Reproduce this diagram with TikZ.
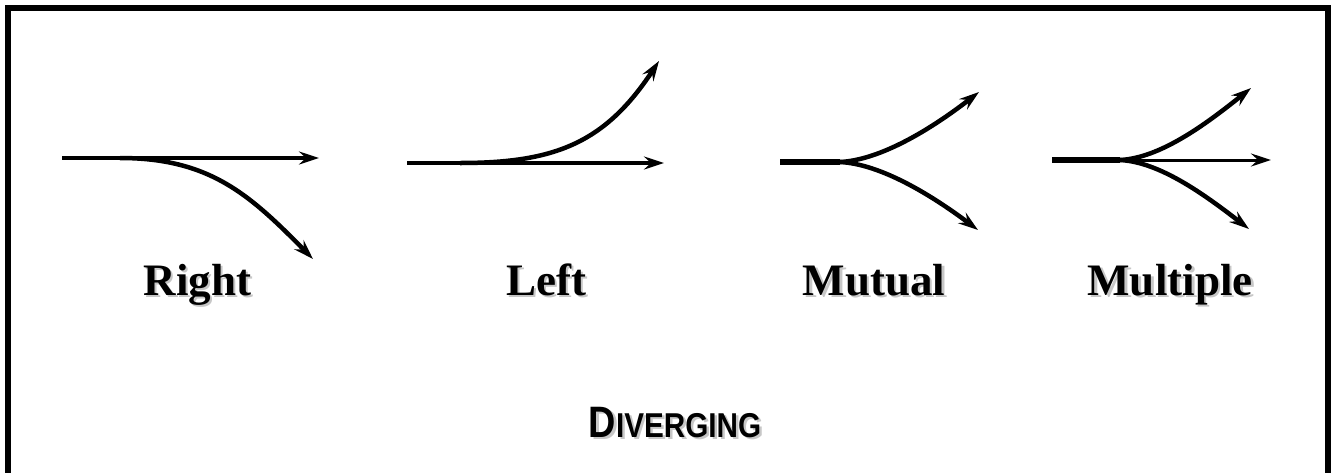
\documentclass[tikz,border=0pt]{standalone}
\usepackage{fontspec}
\setmainfont{Liberation Serif}
\newfontfamily\sansbf{Liberation Sans}[BoldFont={* Bold}]
\usetikzlibrary{arrows.meta}
\tikzset{
  flow/.style={line width=4.5pt,-{Stealth[length=20pt,width=13pt,inset=7pt]}},
  thinflow/.style={line width=3pt,-{Stealth[length=20pt,width=13pt,inset=7pt]}},
  stem/.style={line width=6.5pt},
  lbl/.style={anchor=base,inner sep=0pt,font=\fontsize{45}{50}\selectfont\bfseries},
  shadow/.style={text=black!22},
}
\newcommand{\divtext}{\scalebox{0.86}[1]{\sansbf\bfseries\fontsize{44}{50}\selectfont D\fontsize{34.5}{40}\selectfont IVERGING}}
\begin{document}
\begin{tikzpicture}[x=1pt,y=-1pt]
\useasboundingbox (0,0) rectangle (1336,472);
% frame
\draw[line width=6pt] (8,480) -- (8,8) -- (1328,8) -- (1328,480);

% Right
\coordinate (r0) at (62,158);
\coordinate (rj) at (120,158);
\coordinate (r1) at (319,158);
\coordinate (r2) at (313,259);
\draw[flow] (r0) -- (r1);
\draw[flow] (rj) .. controls (210,158) and (250,195) .. (r2);

% Left
\coordinate (l0) at (407,163);
\coordinate (lj) at (460,163);
\coordinate (l1) at (664,163);
\coordinate (l2) at (659,61);
\draw[flow] (l0) -- (l1);
\draw[flow] (lj) .. controls (555,163) and (605,143) .. (l2);

% Mutual
\coordinate (m0) at (780,162);
\coordinate (mj) at (840,162);
\coordinate (m1) at (979,92);
\coordinate (m2) at (978,230);
\draw[stem] (m0) -- (mj);
\draw[flow] (mj) .. controls (880,160) and (930,130) .. (m1);
\draw[flow] (mj) .. controls (880,164) and (930,194) .. (m2);

% Multiple
\coordinate (x0) at (1052,160);
\coordinate (xj) at (1120,160);
\coordinate (x1) at (1251,88);
\coordinate (x2) at (1271,160);
\coordinate (x3) at (1249,229);
\draw[stem] (x0) -- (xj);
\draw[thinflow] (xj) -- (x2);
\draw[flow] (xj) .. controls (1160,158) and (1205,125) .. (x1);
\draw[flow] (xj) .. controls (1160,162) and (1205,195) .. (x3);

% labels with shadows
\node[lbl,shadow] (rs) at (199.5,297.5) {Right};
\node[lbl] (rt) at (197.5,295) {Right};
\node[lbl,shadow] (ls) at (548.5,297.5) {Left};
\node[lbl] (lt) at (546,295) {Left};
\node[lbl,shadow] (ms) at (876.5,297.5) {Mutual};
\node[lbl] (mt) at (874,295) {Mutual};
\node[lbl,shadow] (xs) at (1172.5,297.5) {Multiple};
\node[lbl] (xt) at (1170,295) {Multiple};

\node[anchor=base,inner sep=0pt,text=black!22] (ds) at (677.5,439.5) {\divtext};
\node[anchor=base,inner sep=0pt] (dt) at (675,437) {\divtext};
\end{tikzpicture}
\end{document}
